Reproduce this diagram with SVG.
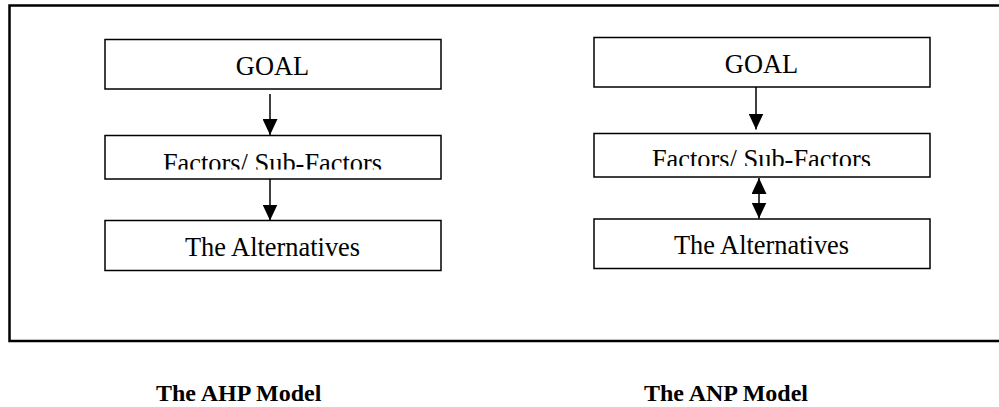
<svg xmlns="http://www.w3.org/2000/svg" width="999" height="407" viewBox="0 0 999 407">
<style>
.box{fill:#fff;stroke:#000;stroke-width:1.5}
.t{font-family:"Liberation Serif","Times New Roman",serif;font-size:26.4px;fill:#000;text-anchor:middle}
.lbl{font-family:"Liberation Serif","Times New Roman",serif;font-size:24px;font-weight:bold;fill:#000}
.c{stroke:#000;stroke-width:1.5;fill:none}
</style>
<defs>
<marker id="hd" markerWidth="16" markerHeight="15" refX="16" refY="7.5" orient="auto-start-reverse" markerUnits="userSpaceOnUse" viewBox="0 0 16 15">
<path d="M0,0 L16,7.5 L0,15 Z" fill="#000"/>
</marker>
<clipPath id="clipL"><rect x="105" y="135" width="336" height="34.5"/></clipPath>
<clipPath id="clipR"><rect x="594" y="133" width="336" height="33"/></clipPath>
</defs>
<rect id="frame" x="9.5" y="5.5" width="1000" height="335.5" fill="none" stroke="#000" stroke-width="2.5"/>
<g id="ahp-goal"><rect class="box" x="105" y="39.5" width="336" height="49.5"/><text class="t" x="272.5" y="74.5">GOAL</text></g>
<g id="ahp-factors"><rect class="box" x="105" y="135.5" width="336" height="43.5"/><text class="t" x="272.5" y="171.5" clip-path="url(#clipL)">Factors/ Sub-Factors</text></g>
<g id="ahp-alt"><rect class="box" x="105" y="220.5" width="336" height="50"/><text class="t" x="272.5" y="256">The Alternatives</text></g>
<g id="anp-goal"><rect class="box" x="594" y="37.5" width="336" height="49.5"/><text class="t" x="761.5" y="72.5">GOAL</text></g>
<g id="anp-factors"><rect class="box" x="594" y="133.5" width="336" height="43.5"/><text class="t" x="761.5" y="168" clip-path="url(#clipR)">Factors/ Sub-Factors</text></g>
<g id="anp-alt"><rect class="box" x="594" y="219" width="336" height="49.5"/><text class="t" x="761.5" y="254">The Alternatives</text></g>
<g id="connectors">
<line class="c" x1="270" y1="94" x2="270" y2="135" marker-end="url(#hd)"/>
<line class="c" x1="270" y1="179" x2="270" y2="220.5" marker-end="url(#hd)"/>
<line class="c" x1="756" y1="87" x2="756" y2="129.5" marker-end="url(#hd)"/>
<line class="c" x1="759" y1="178" x2="759" y2="218.5" marker-start="url(#hd)" marker-end="url(#hd)"/>
</g>
<text class="lbl" x="156" y="401">The AHP Model</text>
<text class="lbl" x="644" y="401">The ANP Model</text>
</svg>
